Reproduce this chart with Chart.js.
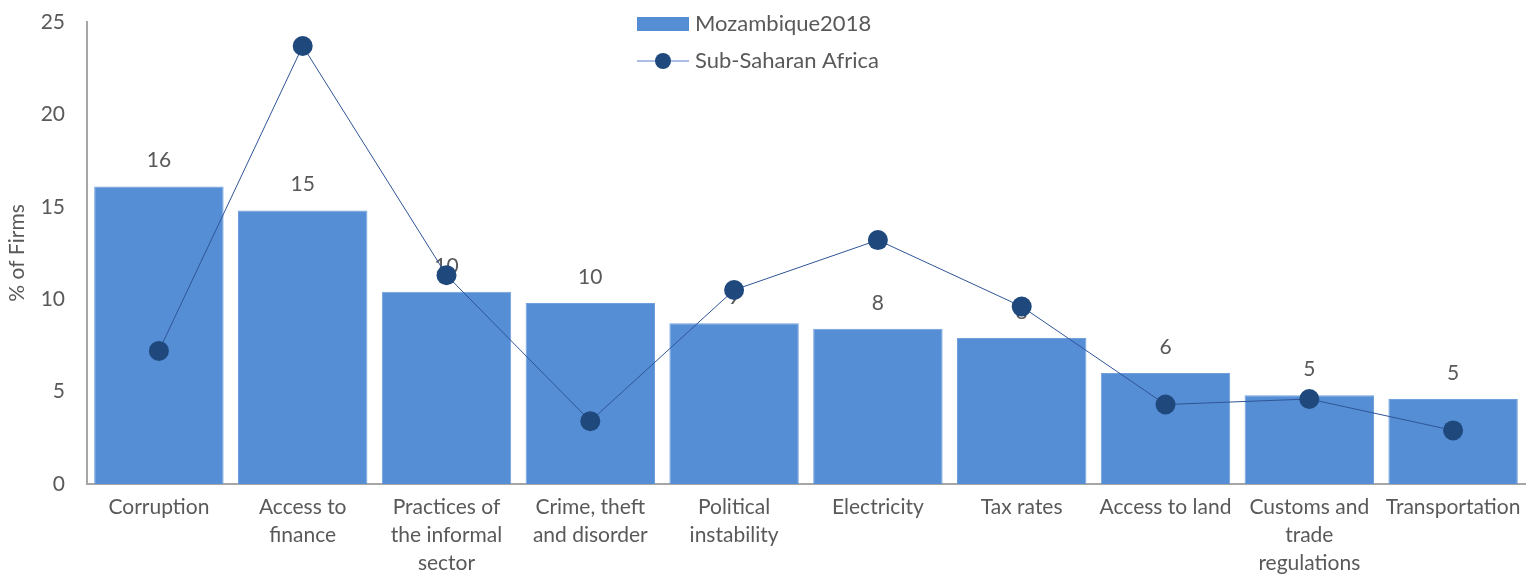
<!DOCTYPE html>
<html>
<head>
<meta charset="utf-8">
<script src="https://cdn.jsdelivr.net/npm/chart.js@4.4.1/dist/chart.umd.min.js"></script>
<style>
  html, body { margin: 0; padding: 0; background: #fff; }
  #wrap { width: 1540px; height: 575px; }
</style>
</head>
<body>
<div id="wrap"><canvas id="myChart"></canvas></div>
<script>
// categories and values
const categories = [
  'Corruption',
  ['Access to', 'finance'],
  ['Practices of', 'the informal', 'sector'],
  ['Crime, theft', 'and disorder'],
  ['Political', 'instability'],
  'Electricity',
  'Tax rates',
  'Access to land',
  ['Customs and', 'trade', 'regulations'],
  'Transportation'
];
const mozambique2018 = [16.1, 14.8, 10.4, 9.8, 8.7, 8.4, 7.9, 6.0, 4.8, 4.6];
const subSaharanAfrica = [7.2, 23.7, 11.3, 3.4, 10.5, 13.2, 9.6, 4.3, 4.6, 2.9];
const yTicks = [0, 5, 10, 15, 20, 25];

const FONT = 'Lato, "Open Sans", sans-serif';
const SIZE = 21;
const TEXT = '#595959';
const BAR = '#558ed5';
const DOT = '#1f497d';
const LINE = '#2f5597';

// bar value labels, drawn right after the bars so the line sits on top
const barLabels = {
  id: 'barLabels',
  afterDatasetDraw(chart, args) {
    if (args.index !== 0) return;
    const ctx = chart.ctx;
    ctx.save();
    ctx.font = SIZE + 'px ' + FONT;
    ctx.fillStyle = TEXT;
    ctx.textAlign = 'center';
    ctx.textBaseline = 'middle';
    args.meta.data.forEach((bar, i) => {
      ctx.fillText(Math.round(mozambique2018[i]), bar.x, bar.y - 26);
    });
    ctx.restore();
  }
};

// legend placed inside the plot area, items stacked and left aligned
const innerLegend = {
  id: 'innerLegend',
  afterDraw(chart) {
    const ctx = chart.ctx;
    const x0 = 637, y0 = 24;
    ctx.save();
    ctx.font = '22px ' + FONT;
    ctx.textBaseline = 'middle';
    // bar item
    ctx.fillStyle = BAR;
    ctx.fillRect(x0, y0 - 7, 52, 14);
    ctx.fillStyle = TEXT;
    ctx.fillText(chart.data.datasets[0].label, x0 + 58, y0);
    // line item
    const y1 = y0 + 37;
    ctx.strokeStyle = '#8faadc';
    ctx.lineWidth = 1.5;
    ctx.beginPath();
    ctx.moveTo(x0, y1);
    ctx.lineTo(x0 + 52, y1);
    ctx.stroke();
    ctx.fillStyle = DOT;
    ctx.beginPath();
    ctx.arc(x0 + 26, y1, 8, 0, Math.PI * 2);
    ctx.fill();
    ctx.fillStyle = TEXT;
    ctx.fillText(chart.data.datasets[1].label, x0 + 58, y1);
    ctx.restore();
  }
};

const ctx = document.getElementById('myChart').getContext('2d');
new Chart(ctx, {
  data: {
    labels: categories,
    datasets: [
      {
        type: 'bar',
        label: 'Mozambique2018',
        data: mozambique2018,
        backgroundColor: BAR,
        borderColor: '#6f9fdc',
        borderWidth: 1,
        barPercentage: 0.9,
        categoryPercentage: 1,
        order: 2
      },
      {
        type: 'line',
        label: 'Sub-Saharan Africa',
        data: subSaharanAfrica,
        borderColor: LINE,
        borderWidth: 1,
        pointRadius: 10,
        pointHoverRadius: 10,
        pointBackgroundColor: DOT,
        pointBorderColor: DOT,
        pointBorderWidth: 0,
        tension: 0,
        fill: false,
        order: 1
      }
    ]
  },
  options: {
    responsive: true,
    maintainAspectRatio: false,
    animation: false,
    layout: { padding: { top: 22, right: 15, left: 0, bottom: 0 } },
    plugins: {
      legend: { display: false },
      tooltip: { enabled: false }
    },
    scales: {
      x: {
        grid: { display: false, drawTicks: false },
        border: { color: '#a6a6a6', width: 2 },
        ticks: {
          color: TEXT,
          font: { family: FONT, size: SIZE, lineHeight: 1.33 },
          padding: 9,
          maxRotation: 0,
          autoSkip: false
        },
        afterFit(scale) { scale.height = 91; }
      },
      y: {
        min: 0,
        max: 25,
        afterBuildTicks(scale) { scale.ticks = yTicks.map(v => ({ value: v })); },
        grid: { display: false, drawTicks: false },
        border: { color: '#a6a6a6', width: 2 },
        ticks: {
          color: TEXT,
          font: { family: FONT, size: SIZE },
          padding: 22
        },
        title: {
          display: true,
          text: '% of Firms',
          color: TEXT,
          font: { family: FONT, size: SIZE },
          padding: { top: 5, bottom: 4 }
        },
        afterFit(scale) {
          scale.width = 87;
          scale.paddingTop = 0;
          scale.paddingBottom = 0;
        }
      }
    }
  },
  plugins: [barLabels, innerLegend]
});
</script>
</body>
</html>
